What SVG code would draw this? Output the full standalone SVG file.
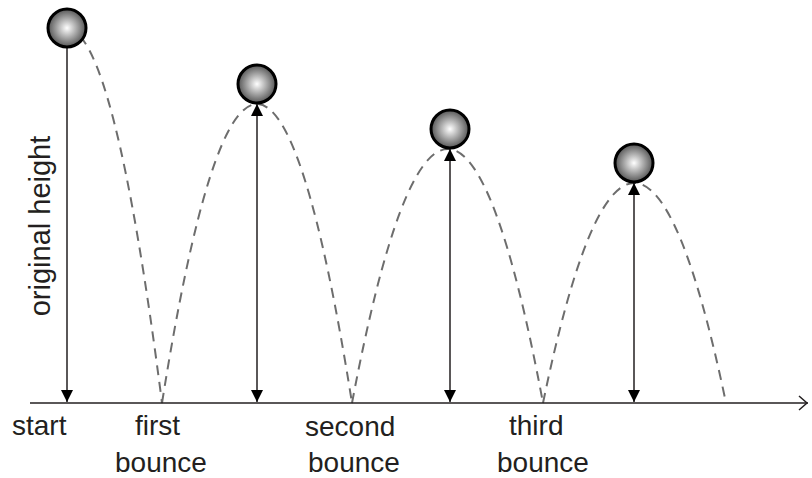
<svg xmlns="http://www.w3.org/2000/svg" width="812" height="478" viewBox="0 0 812 478">
<style>
.lbl{font-family:"Liberation Sans",Arial,sans-serif;font-size:28px;fill:#231f20}
.arc{fill:none;stroke:#6d6d6d;stroke-width:2;stroke-dasharray:10 7}
.ln{stroke:#231f20;stroke-width:1.5;fill:none}
.ball{fill:url(#bg);stroke:#000;stroke-width:3}
</style>
<defs>
<radialGradient id="bg" cx="0.5" cy="0.5" r="0.5" fx="0.5" fy="0.5">
<stop offset="0" stop-color="#ffffff"/>
<stop offset="1" stop-color="#555555"/>
</radialGradient>
<marker id="ah" viewBox="0 0 10 10" refX="10" refY="5" markerWidth="12" markerHeight="12" markerUnits="userSpaceOnUse" orient="auto-start-reverse">
<path d="M0,0 L10,5 L0,10 z" fill="#000"/>
</marker>
</defs>
<g id="connectors">
<path class="arc" d="M66,28 Q114,28 162,403"/>
<path class="arc" d="M162,403 Q257,-195 352,403"/>
<path class="arc" d="M352,403 Q448,-105 543,403"/>
<path class="arc" d="M543,403 Q634,-37 726,403"/>
<line class="ln" x1="30" y1="403" x2="808" y2="403"/>
<path class="ln" d="M799,396 L807,403 L799,410"/>
<line class="ln" x1="67" y1="47" x2="67" y2="402" marker-end="url(#ah)"/>
<line class="ln" x1="257" y1="104" x2="257" y2="402" marker-start="url(#ah)" marker-end="url(#ah)"/>
<line class="ln" x1="450" y1="149" x2="450" y2="402" marker-start="url(#ah)" marker-end="url(#ah)"/>
<line class="ln" x1="634" y1="183" x2="634" y2="402" marker-start="url(#ah)" marker-end="url(#ah)"/>
</g>
<g id="ball1"><circle class="ball" cx="67" cy="28" r="19"/></g>
<g id="ball2"><circle class="ball" cx="257" cy="84" r="19"/></g>
<g id="ball3"><circle class="ball" cx="450" cy="129" r="19"/></g>
<g id="ball4"><circle class="ball" cx="634" cy="163" r="19"/></g>
<g id="labels">
<text class="lbl" style="font-size:29px" transform="translate(50,226) rotate(-90)" text-anchor="middle">original height</text>
<text class="lbl" x="12" y="435">start</text>
<text class="lbl" x="135" y="435">first</text>
<text class="lbl" x="115" y="472">bounce</text>
<text class="lbl" x="305" y="436">second</text>
<text class="lbl" x="308" y="472">bounce</text>
<text class="lbl" x="509" y="435">third</text>
<text class="lbl" x="497" y="472">bounce</text>
</g>
</svg>
